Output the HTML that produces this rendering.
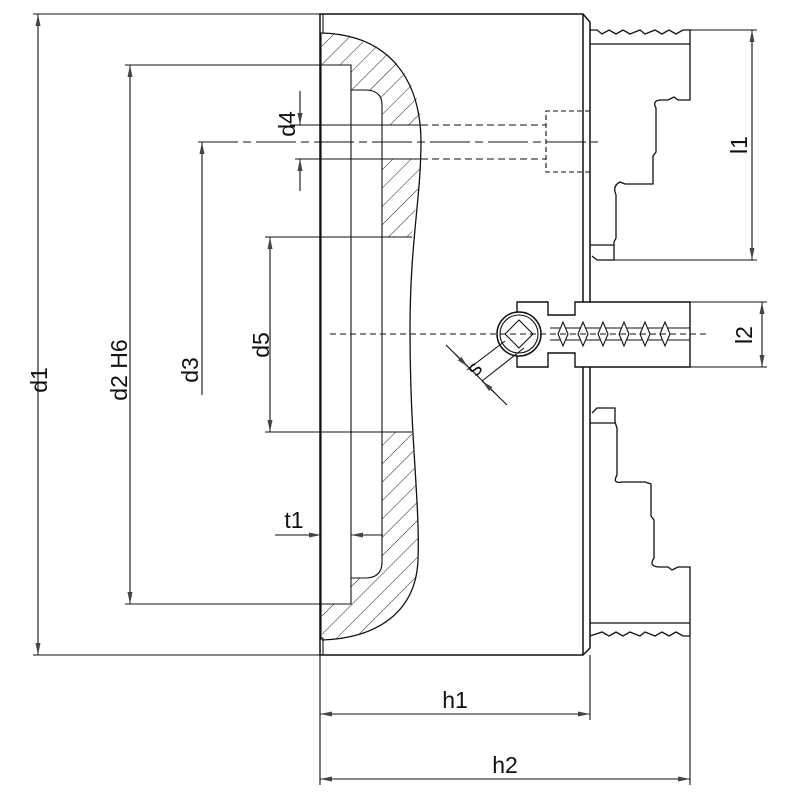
<!DOCTYPE html>
<html><head><meta charset="utf-8"><style>html,body{margin:0;padding:0;background:#fff}svg{display:block}</style></head>
<body>
<svg width="800" height="800" viewBox="0 0 800 800" xmlns="http://www.w3.org/2000/svg" font-family="Liberation Sans, DejaVu Sans, sans-serif" fill="none" stroke="#111" stroke-width="1.1">
<defs>
<pattern id="h" patternUnits="userSpaceOnUse" width="13" height="13" patternTransform="rotate(45)">
<line x1="0" y1="0" x2="0" y2="13" stroke="#222" stroke-width="1"/>
</pattern>
<marker id="a" viewBox="0 0 12 6" refX="12" refY="3" markerWidth="12" markerHeight="6" orient="auto-start-reverse" markerUnits="userSpaceOnUse">
<path d="M0,0.5 L12,3 L0,5.5 Z" fill="#444" stroke="none"/>
</marker>
</defs>
<path d="M322,33 C390,35 420,80 421,125 L382,125 L382,105 Q382,90 365,90 L351,90 L351,65 L322,65 Z" fill="url(#h)" stroke="none"/>
<path d="M382,159 L421,159 C421,190 414,210 412,237 L382,237 Z" fill="url(#h)" stroke="none"/>
<path d="M382,432 L412,432 C414,480 420,520 418,560 C416,610 380,638 322,640 L322,604 L351,604 L351,578 L365,578 Q382,578 382,562 Z" fill="url(#h)" stroke="none"/>
<path d="M320,14 L583,14 L590,22 L590,648 L583,655 L320,655 Z" stroke-width="1.5"/>
<line x1="583" y1="14" x2="583" y2="655" stroke-width="1.5"/>
<path d="M320,14 L323,14 L323,33 L320,33"/>
<path d="M320,638 L323,638 L323,655"/>
<path d="M322,33 C390,35 420,80 421,140 C421,200 410,240 410,330 C410,440 420,500 418,560 C416,610 380,638 322,640" stroke-width="1.3"/>
<line x1="321" y1="33" x2="321" y2="640"/>
<path d="M322,65 L351,65 L351,604 L322,604"/>
<path d="M351,90 L365,90 Q382,90 382,105 L382,562 Q382,578 365,578 L351,578"/>
<line x1="290" y1="125" x2="421" y2="125"/>
<line x1="295" y1="159" x2="421" y2="159"/>
<line x1="421" y1="125" x2="546" y2="125" stroke-dasharray="7,4"/>
<line x1="421" y1="159" x2="546" y2="159" stroke-dasharray="7,4"/>
<path d="M590,111 L546,111 L546,172 L590,172" stroke-dasharray="5,3"/>
<line x1="198" y1="142" x2="598" y2="142" stroke-dasharray="40,5,8,5"/>
<line x1="265" y1="237" x2="412" y2="237"/>
<line x1="265" y1="432" x2="412" y2="432"/>
<path d="M590,30 L597,30 L602,34 L609,30 L616,34 L623,30 L630,34 L640,30 L645,34 L655,30 L662,34 L669,30 L676,34 L683,30 L690,30 L690,100 L678,100 L674,97 L668,100 L660,100 Q652,101 656,108 L656,152 L653,156 L653,184 L625,184 L620,182 Q612,186 616,195 L616,238 L614,242 L614,260 L597,260 L592,256" stroke-width="1.3"/>
<line x1="590" y1="44" x2="690" y2="44" stroke-width="1.3"/>
<line x1="590" y1="245" x2="614" y2="245" stroke-width="1.3"/>
<path d="M592,413 L597,408 L615,408 L615,422 L617,428 L617,475 Q612,484 622,482 L645,482 L651,484 L651,516 L654,520 L654,558 Q648,567 660,567 L668,567 L672,570 L678,567 L690,567 L690,636 L683,636 L676,632 L669,636 L662,632 L655,636 L645,632 L640,636 L630,632 L623,636 L616,632 L609,636 L602,632 L590,636" stroke-width="1.3"/>
<line x1="590" y1="423" x2="615" y2="423" stroke-width="1.3"/>
<line x1="590" y1="623" x2="690" y2="623" stroke-width="1.3"/>
<path d="M517,302 L548,302 L548,315 L575,315 L575,302 L690,302 L690,367 L575,367 L575,353 L548,353 L548,367 L517,367 Z" fill="#fff" stroke-width="1.4"/>
<line x1="550" y1="328" x2="690" y2="328"/>
<line x1="550" y1="340" x2="690" y2="340"/>
<g fill="#fff">
<path d="M558,334 L563,322 L568,334 L563,346 Z"/>
<path d="M578,334 L583,322 L588,334 L583,346 Z"/>
<path d="M598,334 L603,322 L608,334 L603,346 Z"/>
<path d="M619,334 L624,322 L629,334 L624,346 Z"/>
<path d="M640,334 L645,322 L650,334 L645,346 Z"/>
<path d="M660,334 L665,322 L670,334 L665,346 Z"/>
</g>
<circle cx="519" cy="334" r="22" fill="#fff" stroke-width="1.5"/>
<circle cx="519" cy="334" r="19"/>
<path d="M519,320 L533,334 L519,348 L505,334 Z"/>
<line x1="330" y1="334" x2="710" y2="334" stroke-dasharray="6,4"/>
<line x1="446" y1="345" x2="507" y2="405"/>
<line x1="505" y1="341" x2="467" y2="370"/>
<line x1="524" y1="348" x2="482" y2="381"/>
<line x1="455" y1="354" x2="468" y2="367" marker-end="url(#a)"/>
<line x1="495" y1="393" x2="482" y2="381" marker-end="url(#a)"/>
<text transform="translate(480,373) rotate(-52)" font-size="22" fill="#111" stroke="none" text-anchor="middle">s</text>
<line x1="690" y1="302" x2="767" y2="302"/>
<line x1="690" y1="367" x2="767" y2="367"/>
<line x1="762" y1="302" x2="762" y2="367" marker-start="url(#a)" marker-end="url(#a)"/>
<text transform="translate(752,335) rotate(-90)" font-size="23" fill="#111" stroke="none" text-anchor="middle">l2</text>
<line x1="690" y1="30" x2="757" y2="30"/>
<line x1="614" y1="260" x2="757" y2="260"/>
<line x1="752" y1="30" x2="752" y2="260" marker-start="url(#a)" marker-end="url(#a)"/>
<text transform="translate(747,145) rotate(-90)" font-size="23" fill="#111" stroke="none" text-anchor="middle">l1</text>
<line x1="33" y1="14" x2="320" y2="14"/>
<line x1="33" y1="655" x2="320" y2="655"/>
<line x1="38" y1="14" x2="38" y2="655" marker-start="url(#a)" marker-end="url(#a)"/>
<text transform="translate(47,380) rotate(-90)" font-size="23" fill="#111" stroke="none" text-anchor="middle">d1</text>
<line x1="125" y1="65" x2="322" y2="65"/>
<line x1="125" y1="604" x2="322" y2="604"/>
<line x1="130" y1="65" x2="130" y2="604" marker-start="url(#a)" marker-end="url(#a)"/>
<text transform="translate(127,370) rotate(-90)" font-size="23" fill="#111" stroke="none" text-anchor="middle">d2 H6</text>
<line x1="202" y1="142" x2="202" y2="395" marker-start="url(#a)"/>
<text transform="translate(198,370) rotate(-90)" font-size="23" fill="#111" stroke="none" text-anchor="middle">d3</text>
<line x1="270" y1="237" x2="270" y2="432" marker-start="url(#a)" marker-end="url(#a)"/>
<text transform="translate(269,345) rotate(-90)" font-size="23" fill="#111" stroke="none" text-anchor="middle">d5</text>
<line x1="300" y1="91" x2="300" y2="125" marker-end="url(#a)"/>
<line x1="300" y1="191" x2="300" y2="159" marker-end="url(#a)"/>
<text transform="translate(295,124) rotate(-90)" font-size="23" fill="#111" stroke="none" text-anchor="middle">d4</text>
<line x1="275" y1="535" x2="321" y2="535" marker-end="url(#a)"/>
<line x1="383" y1="535" x2="351" y2="535" marker-end="url(#a)"/>
<text x="294" y="528" font-size="23" fill="#111" stroke="none" text-anchor="middle">t1</text>
<line x1="320" y1="655" x2="320" y2="785"/>
<line x1="590" y1="655" x2="590" y2="720"/>
<line x1="690" y1="636" x2="690" y2="785"/>
<line x1="320" y1="714" x2="590" y2="714" marker-start="url(#a)" marker-end="url(#a)"/>
<line x1="320" y1="779" x2="690" y2="779" marker-start="url(#a)" marker-end="url(#a)"/>
<text x="455" y="708" font-size="23" fill="#111" stroke="none" text-anchor="middle">h1</text>
<text x="505" y="773" font-size="23" fill="#111" stroke="none" text-anchor="middle">h2</text>
</svg>
</body></html>
